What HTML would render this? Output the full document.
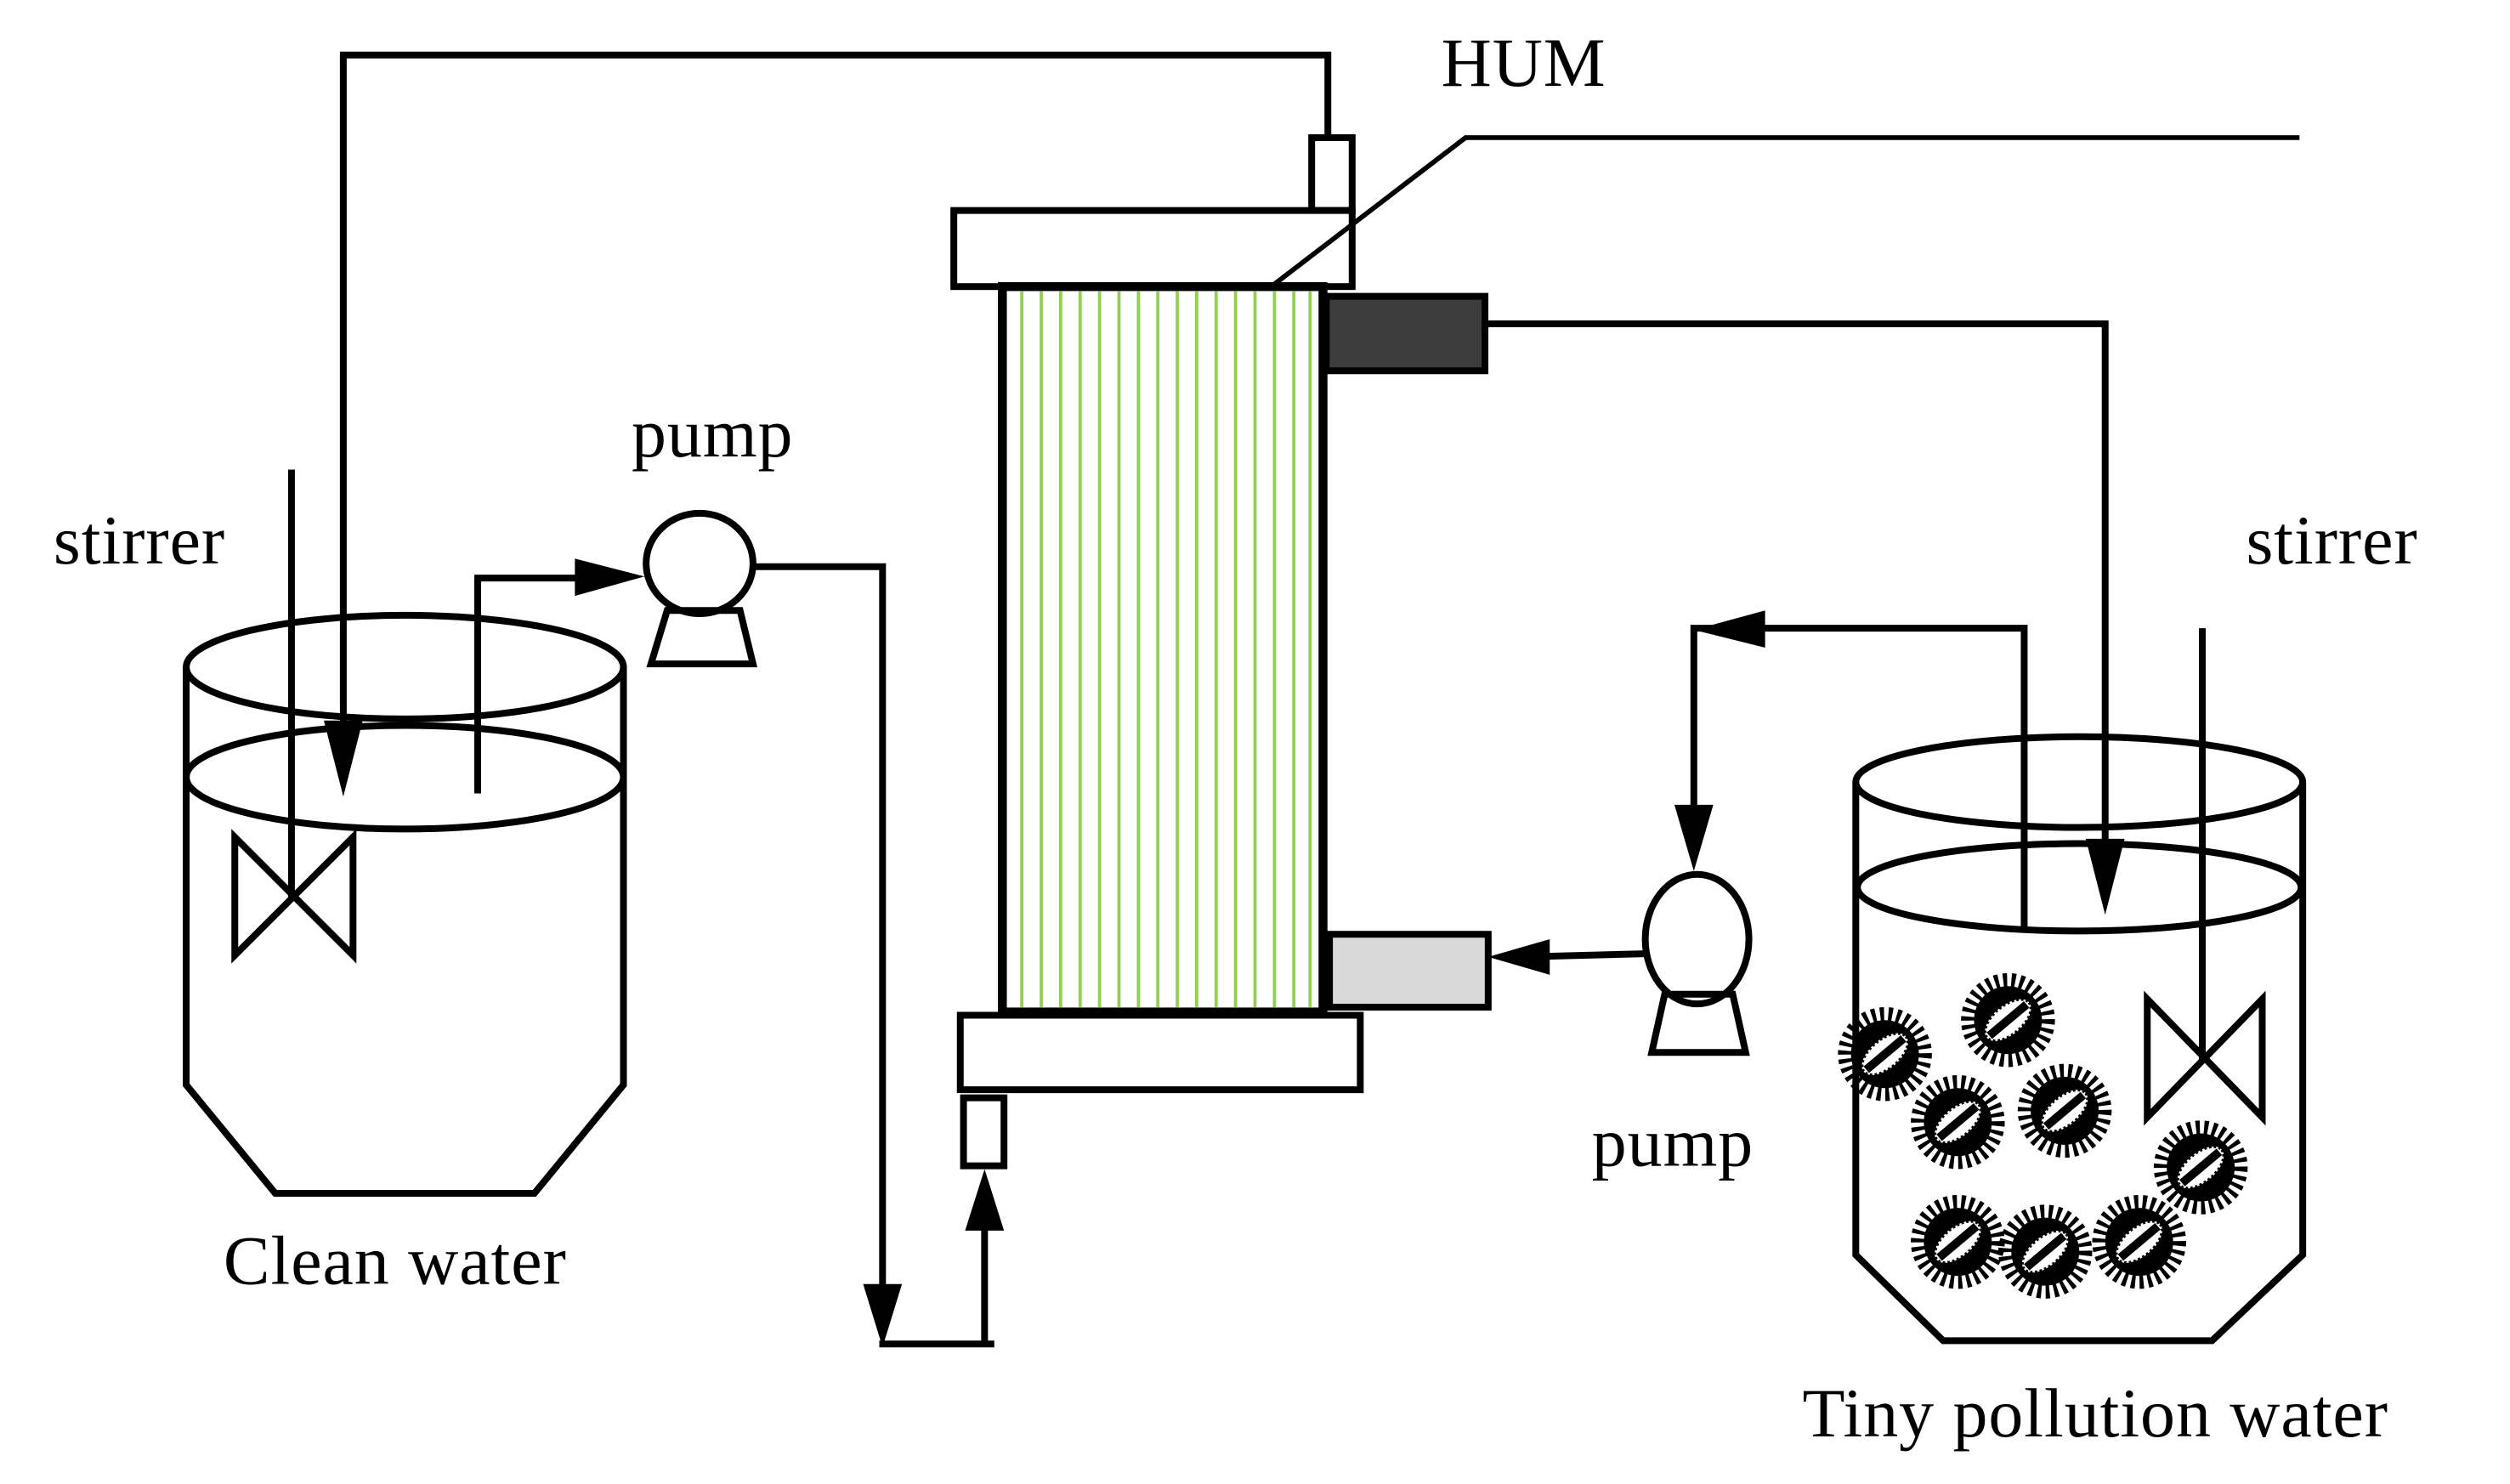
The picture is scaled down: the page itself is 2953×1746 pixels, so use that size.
<!DOCTYPE html>
<html><head><meta charset="utf-8"><style>
html,body{margin:0;padding:0;background:#fff;width:2953px;height:1746px;overflow:hidden}
svg{display:block}
text{font-family:"Liberation Serif",serif;font-size:43px;fill:#000;letter-spacing:0.5px}
</style></head><body>
<svg width="2953" height="1746" viewBox="0 0 1550 916.5" preserveAspectRatio="none" xmlns="http://www.w3.org/2000/svg">
<defs>
<g id="p">
<circle r="21" fill="#000"/>
<circle r="24" fill="none" stroke="#000" stroke-width="10" stroke-dasharray="2.4 2.6"/>
<g transform="rotate(-40)">
<ellipse rx="17" ry="9" fill="#fff"/>
<ellipse rx="17" ry="9" fill="none" stroke="#000" stroke-width="2" stroke-dasharray="1.5 1.5"/>
<rect x="-15" y="-2.6" width="30" height="5.2" fill="#000"/>
</g>
</g>
</defs>
<g fill="none" stroke="#000" stroke-width="4.2">
<polyline points="212,470 212,34 820,34 820,85"/>
<rect x="810" y="85" width="25" height="45" fill="#fff"/>
<rect x="589" y="130" width="246" height="47" fill="#fff"/>
<rect x="619" y="177" width="198" height="448" fill="#fff" stroke-width="5.5"/>
</g>
<g stroke="#92d050" stroke-width="2">
<line x1="631" y1="180" x2="631" y2="622"/><line x1="643" y1="180" x2="643" y2="622"/>
<line x1="655" y1="180" x2="655" y2="622"/><line x1="667" y1="180" x2="667" y2="622"/>
<line x1="679" y1="180" x2="679" y2="622"/><line x1="691" y1="180" x2="691" y2="622"/>
<line x1="703" y1="180" x2="703" y2="622"/><line x1="715" y1="180" x2="715" y2="622"/>
<line x1="727" y1="180" x2="727" y2="622"/><line x1="739" y1="180" x2="739" y2="622"/>
<line x1="751" y1="180" x2="751" y2="622"/><line x1="763" y1="180" x2="763" y2="622"/>
<line x1="775" y1="180" x2="775" y2="622"/><line x1="787" y1="180" x2="787" y2="622"/>
<line x1="799" y1="180" x2="799" y2="622"/><line x1="809" y1="180" x2="809" y2="622"/>
</g>
<g fill="none" stroke="#000" stroke-width="4.2">
<rect x="593" y="627" width="247" height="46" fill="#fff"/>
<rect x="595" y="678" width="25" height="42" fill="#fff"/>
<rect x="819" y="183" width="98" height="46" fill="#3c3c3c"/>
<rect x="821" y="577" width="98" height="45" fill="#d9d9d9"/>
<polyline points="917,200 1300,200 1300,540"/>
<polyline points="785,177 905,85 1420,85" stroke-width="3"/>
<ellipse cx="1048" cy="580" rx="32" ry="40" fill="#fff"/>
<polygon points="1028,614 1020,650 1078,650 1070,614"/>
<line x1="1016" y1="589" x2="940" y2="591"/>
<polyline points="1250,573 1250,388 1046,388 1046,515"/>
<ellipse cx="1284" cy="483" rx="138" ry="28"/>
<ellipse cx="1284" cy="548" rx="137" ry="27"/>
<polyline points="1146,483 1146,775 1200,828 1366,828 1422,775 1422,483"/>
<line x1="1360" y1="388" x2="1360" y2="655"/>
<polygon points="1326,617 1326,690 1397,617 1397,690"/>
<ellipse cx="250" cy="412" rx="135" ry="32"/>
<ellipse cx="250" cy="480" rx="135" ry="32"/>
<polyline points="115,412 115,670 170,737 330,737 385,670 385,412"/>
<line x1="180" y1="290" x2="180" y2="555"/>
<polygon points="145,517 145,590 218,517 218,590"/>
<polyline points="295,490 295,357 360,357"/>
<ellipse cx="432" cy="348" rx="33" ry="31" fill="#fff"/>
<polygon points="412,377 402,410 465,410 457,377"/>
<polyline points="465,350 545,350 545,800"/>
<line x1="543" y1="830" x2="614" y2="830"/>
<line x1="608" y1="830" x2="608" y2="750"/>
</g>
<g fill="#000">
<polygon points="200,445 224,445 212,492"/>
<polygon points="1288,518 1312,518 1300,565"/>
<polygon points="919,591 957,580 957,602"/>
<polygon points="1046,389 1090,377 1090,400"/>
<polygon points="1034,497 1058,497 1046,538"/>
<polygon points="355,345 355,368 398,356"/>
<polygon points="533,793 557,793 545,832"/>
<polygon points="596,760 620,760 608,722"/>
</g>
<use href="#p" x="1164" y="651"/>
<use href="#p" x="1240" y="630"/>
<use href="#p" x="1209" y="693"/>
<use href="#p" x="1275" y="686"/>
<use href="#p" x="1359" y="721"/>
<use href="#p" x="1209" y="767"/>
<use href="#p" x="1263" y="773"/>
<use href="#p" x="1321" y="767"/>
<text x="890" y="53">HUM</text>
<text x="33" y="348">stirrer</text>
<text x="1387" y="348">stirrer</text>
<text x="390" y="282">pump</text>
<text x="983" y="720">pump</text>
<text x="138" y="793">Clean water</text>
<text x="1113" y="887">Tiny pollution water</text>
</svg>
</body></html>
